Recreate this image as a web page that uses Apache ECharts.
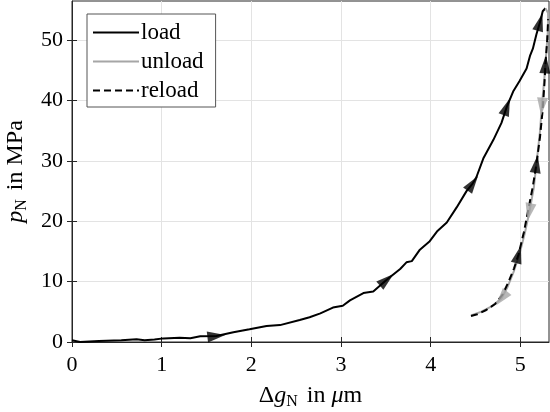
<!DOCTYPE html>
<html>
<head>
<meta charset="utf-8">
<script src="https://cdn.jsdelivr.net/npm/echarts@6/dist/echarts.min.js"></script>
<style>
  html, body { margin: 0; padding: 0; background: #fff; }
  #chart { width: 550px; height: 412px; }
</style>
</head>
<body>
<div id="chart"></div>
<script>
// curves (gap in um, pressure in MPa)
const loadX = [0, 0.09, 0.3, 0.55, 0.72, 0.81, 0.92, 1.02, 1.2, 1.32, 1.43, 1.61, 1.8, 1.98, 2.17, 2.32, 2.54, 2.65, 2.77, 2.91, 3.02, 3.1, 3.25, 3.36, 3.51, 3.66, 3.73, 3.79, 3.88, 3.99, 4.07, 4.18, 4.29, 4.4, 4.47, 4.51, 4.59, 4.7, 4.79, 4.85, 4.92, 4.99, 5.07, 5.11, 5.14, 5.18, 5.22, 5.25, 5.28];
const loadY = [0.3, 0.0, 0.15, 0.3, 0.45, 0.28, 0.4, 0.6, 0.7, 0.62, 0.95, 1.0, 1.6, 2.1, 2.65, 2.8, 3.65, 4.1, 4.75, 5.7, 6.0, 6.9, 8.1, 8.35, 10.3, 12.1, 13.2, 13.4, 15.3, 16.7, 18.3, 19.8, 22.3, 25.0, 26.3, 27.3, 30.5, 33.5, 36.3, 39.0, 41.5, 43.2, 45.3, 47.5, 48.6, 51.0, 53.0, 54.8, 55.3];
const unloadX = [5.28, 5.31, 5.31, 5.29, 5.27, 5.24, 5.22, 5.18, 5.15, 5.1, 5.05, 4.99, 4.93, 4.86, 4.79, 4.68, 4.56, 4.45];
const unloadY = [55.3, 54.5, 52, 48, 44, 39, 35, 29.5, 25.5, 21.5, 18, 14.5, 11.8, 9.2, 7.2, 5.9, 5.0, 4.4];
const reloadX = [4.45, 4.52, 4.62, 4.72, 4.8, 4.87, 4.93, 4.98, 5.04, 5.09, 5.14, 5.18, 5.22, 5.25, 5.27, 5.28, 5.3, 5.31];
const reloadY = [4.3, 4.6, 5.3, 6.3, 7.8, 10.0, 12.2, 14.5, 18.2, 22, 25.8, 29.5, 34, 38.5, 43, 46, 50, 53.5];

// where the direction arrows sit (indices into the curves above)
const loadArrows = [11, 24, 34, 39, 46];
const unloadArrows = [5, 9, 14];
const reloadArrows = [7, 11, 15];

const names = ['load', 'unload', 'reload'];
const xTicks = [0, 1, 2, 3, 4, 5];
const yTicks = [0, 10, 20, 30, 40, 50];

const FONT = 'Liberation Serif';
const zip = (xs, ys) => xs.map((x, i) => [x, ys[i]]);

let myChart = echarts.init(document.getElementById('chart'), null, { renderer: 'canvas' });

const tickStyle = { color: '#262626', width: 1 };
const nameRich = {
  u: { fontFamily: FONT, fontSize: 24, color: '#000' },
  i: { fontFamily: FONT, fontSize: 24, fontStyle: 'italic', color: '#000' },
  s: { fontFamily: FONT, fontSize: 16, color: '#000', verticalAlign: 'bottom', padding: [12, 3, 0, 0] }
};

// MATLAB-like box: labelled axes bottom/left, tick-only axes top/right
function mainAxis(max, ticks, extra) {
  return Object.assign({
    type: 'value', min: 0, max: max, interval: 10,
    nameLocation: 'middle',
    nameTextStyle: { rich: nameRich },
    axisLine: { show: true, lineStyle: tickStyle },
    axisTick: { show: true, inside: true, length: 5, lineStyle: tickStyle, customValues: ticks },
    splitLine: { show: true, lineStyle: { color: '#e3e3e3', width: 1 } },
    axisLabel: { fontFamily: FONT, fontSize: 22, color: '#000', customValues: ticks }
  }, extra);
}
function boxAxis(max, ticks, position) {
  return {
    type: 'value', min: 0, max: max, position: position,
    axisLine: { show: false },
    axisTick: { show: true, inside: true, length: 5, lineStyle: tickStyle, customValues: ticks },
    axisLabel: { show: false }, splitLine: { show: false }
  };
}

const xMain = mainAxis(5.32, xTicks, { name: '{u|Δ}{i|g}{s|N}{u| in }{i|μ}{u|m}', nameGap: 40, interval: 1 });
xMain.axisLabel.margin = 12;
const yMain = mainAxis(56.5, yTicks, { name: '{i|p}{s|N}{u| in MPa}', nameGap: 36 });
yMain.axisLabel.margin = 9;

let option = {
  animation: false,
  backgroundColor: '#fff',
  grid: {
    left: 72, right: 1, top: 1, bottom: 70, containLabel: false, outerBoundsMode: 'none',
    show: true, borderColor: '#262626', borderWidth: 1
  },
  legend: {
    data: names,
    orient: 'vertical',
    left: 87, top: 14,
    backgroundColor: '#fff',
    borderColor: '#555',
    borderWidth: 1,
    borderRadius: 0,
    padding: [7, 12, 5, 5],
    itemWidth: 46, itemHeight: 14, itemGap: 6,
    itemStyle: { opacity: 0 },
    textStyle: { fontFamily: FONT, fontSize: 23, color: '#000', padding: [0, 0, 0, -3] }
  },
  xAxis: [xMain, boxAxis(5.32, xTicks, 'top')],
  yAxis: [yMain, boxAxis(56.5, yTicks, 'right')],
  series: [{
    name: 'load', type: 'line', symbol: 'none',
    lineStyle: { color: '#000', width: 2 }, itemStyle: { color: '#000' },
    data: zip(loadX, loadY), z: 3
  }, {
    name: 'unload', type: 'line', symbol: 'none',
    lineStyle: { color: '#a6a6a6', width: 2 }, itemStyle: { color: '#a6a6a6' },
    data: zip(unloadX, unloadY), z: 3
  }, {
    name: 'reload', type: 'line', symbol: 'none',
    lineStyle: { color: '#000', width: 2, type: [7, 4] }, itemStyle: { color: '#000' },
    data: zip(reloadX, reloadY), z: 4
  }]
};
myChart.setOption(option);

// arrow heads: rotate a triangle along the local direction of the curve
function arrows(xs, ys, idx, color, z) {
  return {
    type: 'scatter', symbol: 'triangle', symbolSize: [11, 18], z: z,
    itemStyle: { color: color }, silent: true,
    data: idx.map(i => {
      const a = myChart.convertToPixel({ gridIndex: 0 }, [xs[Math.max(i - 1, 0)], ys[Math.max(i - 1, 0)]]);
      const b = myChart.convertToPixel({ gridIndex: 0 }, [xs[Math.min(i + 1, xs.length - 1)], ys[Math.min(i + 1, ys.length - 1)]]);
      const rot = Math.atan2(-(b[0] - a[0]), -(b[1] - a[1])) * 180 / Math.PI;
      return { value: [xs[i], ys[i]], symbolRotate: rot };
    })
  };
}
myChart.setOption({
  series: option.series.concat([
    arrows(loadX, loadY, loadArrows, '#000', 5),
    arrows(reloadX, reloadY, reloadArrows, '#000', 5),
    arrows(unloadX, unloadY, unloadArrows, '#a6a6a6', 6)
  ])
});
</script>
</body>
</html>
